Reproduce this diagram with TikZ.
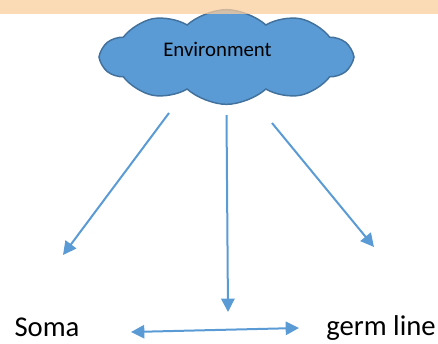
\documentclass[tikz,border=0pt]{standalone}
\usepackage{fontspec}
\setmainfont{Carlito}
\usetikzlibrary{shapes.symbols,arrows.meta}

\definecolor{bandorange}{RGB}{250,205,158}
\definecolor{cloudblue}{RGB}{91,155,213}
\definecolor{cloudedge}{RGB}{65,113,156}
\definecolor{arrowblue}{RGB}{91,155,213}

\tikzset{
  envcloud/.style={cloud, cloud puffs=10, cloud puff arc=85, shape border rotate=18,
    draw=cloudedge, fill=cloudblue,
    line width=1.1pt, minimum width=188pt, minimum height=71pt, inner sep=0pt},
  bluearrow/.style={draw=arrowblue, line width=1.5pt, -{Triangle[length=10pt,width=10pt]}},
  bigtext/.style={font=\fontsize{21.5}{24}\selectfont, inner sep=0pt, anchor=base}
}

\begin{document}
\begin{tikzpicture}[x=0.75pt,y=0.75pt,yscale=-1,xscale=1]
    \useasboundingbox (0,0) rectangle (438,343);

    %Cloud
    \node[envcloud] (env) at (226.5,57) {};
    % Text Node
    \node[font=\fontsize{15.6}{18}\selectfont, inner sep=0pt, anchor=base] (envtext) at (217.5,56.5) {Environment};

    %Band
    \fill[bandorange, fill opacity=0.75] (0,0) rectangle (438,14);

    % Text Node
    \node[bigtext] (soma) at (47,336) {Soma};
    % Text Node
    \node[bigtext] (germ) at (381,335.5) {germ line};

    %Arrow ends
    \coordinate (a1) at (169,113);
    \coordinate (b1) at (63,255);
    \coordinate (a2) at (226.5,115);
    \coordinate (b2) at (228,312);
    \coordinate (a3) at (272,123);
    \coordinate (b3) at (374,247);
    \coordinate (l4) at (131,332);
    \coordinate (r4) at (299,328);

    %Straight Lines
    \draw[bluearrow] (a1) -- (b1);
    %Straight Lines
    \draw[bluearrow] (a2) -- (b2);
    %Straight Lines
    \draw[bluearrow] (a3) -- (b3);
    %Straight Lines
    \draw[bluearrow, {Triangle[length=10pt,width=10pt]}-{Triangle[length=10pt,width=10pt]}] (l4) -- (r4);

\end{tikzpicture}
\end{document}
